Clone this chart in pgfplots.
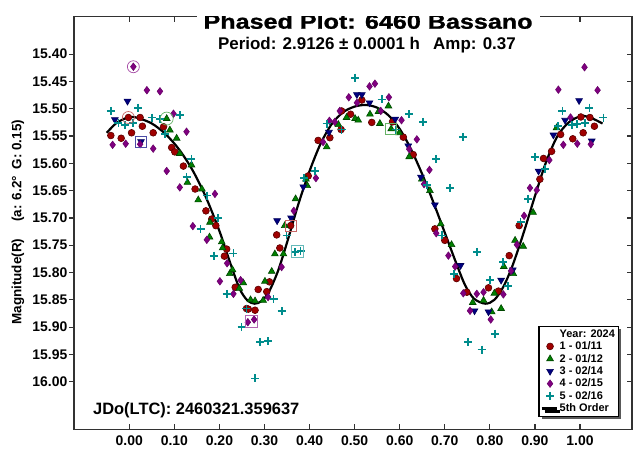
\documentclass[border=0pt]{standalone}
\usepackage{fontspec}
\setmainfont{Liberation Sans}
\newfontfamily\heavyfont[BoldFeatures={FakeBold=1}]{Liberation Sans}
\usepackage{pgfplots}
\pgfplotsset{compat=1.18}
\usetikzlibrary{shadows}
\definecolor{cRed}{RGB}{160,0,0}
\definecolor{cRedD}{RGB}{90,0,0}
\definecolor{cGreen}{RGB}{0,128,0}
\definecolor{cGreenD}{RGB}{0,70,0}
\definecolor{cNavy}{RGB}{0,0,128}
\definecolor{cPurp}{RGB}{128,0,128}
\definecolor{cTeal}{RGB}{0,140,140}
\definecolor{axgray}{RGB}{50,50,50}
\begin{document}
\begin{tikzpicture}
\begin{axis}[
  at={(0,0)}, anchor=south west,
  scale only axis, width=558bp, height=413bp,
  xmin=-0.1227, xmax=1.1154, ymin=15.3310, ymax=16.0875, y dir=reverse,
  axis line style={line width=1.6bp, draw=axgray},
  xtick={0,0.1,0.2,0.3,0.4,0.5,0.6,0.7,0.8,0.9,1.0},
  xticklabels={0.00,0.10,0.20,0.30,0.40,0.50,0.60,0.70,0.80,0.90,1.00},
  ytick={15.40,15.45,15.50,15.55,15.60,15.65,15.70,15.75,15.80,15.85,15.90,15.95,16.00},
  yticklabels={15.40,15.45,15.50,15.55,15.60,15.65,15.70,15.75,15.80,15.85,15.90,15.95,16.00},
  tick pos=left, tick align=outside, major tick length=5bp,
  x tick style={draw=none},
  y tick style={line width=1.2bp, draw=axgray},
  tick label style={font=\fontsize{14}{14}\selectfont\bfseries},
  xticklabel style={inner sep=1bp},
  yticklabel style={inner xsep=1.5bp},
  ylabel={Magnitude(R)\quad\ (a: 6.2°\enspace G: 0.15)},
  ylabel style={at={(axis description cs:-0.1004,0.5018)}, anchor=center, font=\fontsize{13.5}{14}\selectfont\bfseries},
  legend cell align=left,
  legend style={at={(axis description cs:0.9767,0.0302)}, anchor=south east,
    draw=black, line width=1.2bp, fill=white,
    font=\fontsize{11}{11}\selectfont\bfseries,
    inner xsep=1.5bp, inner ysep=1.2bp, row sep=-1bp,
    drop shadow={shadow xshift=3bp, shadow yshift=-3bp, fill=black!65, opacity=1}},
]
\addlegendimage{empty legend}
\addlegendentry{Year: 2024}

% 1 - 01/11 red circles
\addplot[only marks, mark=*, mark size=3.4bp, mark options={fill=cRed, draw=cRedD, line width=0.6bp}] table {
x y
-0.041 15.549
-0.018 15.554
-0.002 15.516
0.005 15.544
0.024 15.516
0.029 15.532
0.053 15.544
0.076 15.533
0.094 15.571
0.101 15.579
0.120 15.605
0.146 15.647
0.170 15.687
0.183 15.702
0.192 15.714
0.211 15.770
0.216 15.757
0.235 15.827
0.260 15.866
0.264 15.867
0.279 15.869
0.286 15.831
0.305 15.835
0.311 15.817
0.327 15.731
0.334 15.755
0.358 15.714
0.397 15.623
0.419 15.558
0.445 15.553
0.470 15.538
0.471 15.504
0.491 15.510
0.516 15.484
0.538 15.525
0.584 15.524
0.608 15.552
0.630 15.584
0.678 15.720
0.700 15.741
0.726 15.811
0.749 15.836
0.797 15.828
0.819 15.834
0.843 15.769
0.865 15.714
0.911 15.629
0.919 15.591
0.937 15.578
0.957 15.547
0.984 15.555
1.002 15.515
1.007 15.544
1.022 15.516
1.032 15.532
};
\addlegendentry{1 - 01/11}

% 2 - 01/12 green triangles
\addplot[only marks, mark=triangle*, mark size=3.9bp, mark options={fill=cGreen, draw=cGreenD, line width=0.6bp}] table {
x y
0.083 15.518
0.090 15.539
0.105 15.554
0.112 15.582
0.129 15.635
0.138 15.603
0.153 15.667
0.161 15.647
0.178 15.735
0.179 15.708
0.205 15.744
0.207 15.755
0.223 15.802
0.229 15.795
0.244 15.829
0.253 15.819
0.269 15.850
0.279 15.852
0.297 15.851
0.301 15.816
0.316 15.798
0.323 15.766
0.342 15.766
0.345 15.714
0.369 15.665
0.392 15.629
0.395 15.641
0.438 15.570
0.464 15.529
0.482 15.516
0.501 15.518
0.508 15.521
0.534 15.510
0.553 15.505
0.556 15.527
0.575 15.495
0.581 15.537
0.599 15.544
0.621 15.588
0.649 15.629
0.667 15.650
0.691 15.711
0.715 15.749
0.762 15.855
0.786 15.851
0.804 15.872
0.810 15.838
0.825 15.866
0.831 15.789
0.852 15.802
0.856 15.741
0.874 15.752
0.896 15.690
0.948 15.535
};
\addlegendentry{2 - 01/12}

% 3 - 02/14 navy down triangles
\addplot[only marks, mark=triangle*, mark size=3.9bp, mark options={rotate=180, fill=cNavy, draw=cNavy!70!black, line width=0.6bp}] table {
x y
-0.032 15.520
-0.004 15.486
0.026 15.560
0.328 15.705
0.359 15.700
0.386 15.643
0.443 15.543
0.505 15.474
0.516 15.474
0.533 15.489
0.590 15.519
0.619 15.568
0.647 15.625
0.678 15.676
0.735 15.787
0.766 15.870
0.797 15.872
0.825 15.814
0.851 15.795
0.908 15.614
0.941 15.548
0.967 15.521
0.998 15.485
1.026 15.559
};
\addlegendentry{3 - 02/14}

% 4 - 02/15 purple diamonds
\addplot[only marks, mark=diamond*, mark size=3.8bp, mark options={fill=cPurp, draw=cPurp!80!black, line width=0.5bp}] table {
x y
-0.037 15.566
-0.008 15.564
0.009 15.423
0.024 15.565
0.039 15.466
0.053 15.573
0.068 15.468
0.083 15.614
0.098 15.509
0.112 15.644
0.127 15.542
0.141 15.715
0.172 15.740
0.190 15.656
0.201 15.816
0.217 15.783
0.231 15.839
0.247 15.814
0.263 15.891
0.277 15.886
0.308 15.845
0.338 15.790
0.365 15.687
0.414 15.627
0.430 15.561
0.444 15.522
0.456 15.524
0.467 15.504
0.487 15.479
0.505 15.489
0.533 15.459
0.545 15.454
0.558 15.504
0.576 15.479
0.604 15.521
0.621 15.574
0.638 15.556
0.654 15.638
0.666 15.612
0.681 15.728
0.708 15.769
0.723 15.789
0.741 15.838
0.756 15.870
0.771 15.839
0.786 15.836
0.802 15.886
0.830 15.840
0.847 15.797
0.860 15.749
0.876 15.696
0.889 15.645
0.904 15.649
0.932 15.594
0.952 15.465
0.963 15.566
0.979 15.516
0.994 15.564
1.010 15.424
1.024 15.565
1.039 15.466
};
\addlegendentry{4 - 02/15}

% 5 - 02/16 teal plus
\addplot[only marks, mark=+, mark size=4bp, mark options={draw=cTeal, line width=1.8bp}] table {
x y
-0.041 15.504
-0.024 15.526
-0.010 15.529
0.009 15.526
0.020 15.498
0.050 15.516
0.068 15.519
0.079 15.546
0.112 15.511
0.127 15.625
0.138 15.592
0.158 15.720
0.172 15.659
0.188 15.769
0.197 15.700
0.216 15.839
0.231 15.765
0.249 15.900
0.260 15.866
0.279 15.994
0.290 15.927
0.308 15.926
0.320 15.849
0.338 15.871
0.349 15.732
0.368 15.763
0.380 15.760
0.388 15.627
0.412 15.614
0.438 15.527
0.471 15.538
0.501 15.443
0.560 15.483
0.592 15.538
0.621 15.510
0.652 15.524
0.661 15.640
0.681 15.592
0.693 15.732
0.712 15.645
0.720 15.802
0.741 15.552
0.752 15.927
0.772 15.762
0.782 15.941
0.800 15.814
0.811 15.912
0.830 15.781
0.841 15.825
0.868 15.708
0.885 15.665
0.900 15.588
0.922 15.611
0.952 15.532
0.961 15.504
0.982 15.530
0.993 15.528
1.011 15.526
1.021 15.498
1.052 15.516
};
\addlegendentry{5 - 02/16}

% highlighted points (circles and boxes)
\addplot[only marks, mark=o, mark size=6bp, mark options={draw=cPurp!70, line width=0.7bp}, forget plot] coordinates {(0.009,15.423)};
\addplot[only marks, mark=o, mark size=6bp, mark options={draw=cRed!60, line width=0.7bp}, forget plot] coordinates {(-0.002,15.516)};
\addplot[only marks, mark=o, mark size=6.5bp, mark options={draw=cGreen!60, line width=0.7bp}, forget plot] coordinates {(0.083,15.518)};
\addplot[only marks, mark=square, mark size=5.5bp, mark options={draw=cNavy!70, line width=0.8bp}, forget plot] coordinates {(0.026,15.560)};
\addplot[only marks, mark=square, mark size=5.5bp, mark options={draw=cRed!60, line width=0.8bp}, forget plot] coordinates {(0.358,15.714)};
\addplot[only marks, mark=square, mark size=6bp, mark options={draw=cTeal!60, line width=0.8bp}, forget plot] coordinates {(0.372,15.762)};
\addplot[only marks, mark=square, mark size=6bp, mark options={draw=cPurp!60, line width=0.8bp}, forget plot] coordinates {(0.270,15.889)};
\addplot[only marks, mark=square, mark size=5.5bp, mark options={draw=cGreen!60, line width=0.8bp}, forget plot] coordinates {(0.581,15.537)};

% 5th order fit
\addplot[black, line width=2.2bp, smooth, no marks,
  legend image code/.code={\draw[black, line width=2.2bp] (0bp,0bp) -- (15bp,0bp);}] table {
x y
-0.050 15.544
-0.030 15.527
-0.010 15.518
0.005 15.515
0.020 15.517
0.050 15.527
0.080 15.546
0.110 15.574
0.140 15.612
0.170 15.662
0.200 15.724
0.225 15.785
0.245 15.830
0.262 15.851
0.278 15.857
0.294 15.852
0.310 15.835
0.330 15.797
0.350 15.745
0.375 15.675
0.400 15.614
0.425 15.563
0.450 15.527
0.475 15.506
0.500 15.496
0.525 15.493
0.550 15.498
0.575 15.512
0.600 15.537
0.625 15.574
0.650 15.620
0.675 15.672
0.700 15.727
0.725 15.782
0.745 15.823
0.765 15.848
0.790 15.857
0.810 15.850
0.830 15.826
0.850 15.788
0.875 15.727
0.900 15.660
0.925 15.597
0.950 15.550
0.975 15.525
1.000 15.514
1.020 15.515
1.050 15.527
};
\addlegendentry{5th Order}

% ticks: x inside (bottom and top), y inside on the right
\pgfplotsinvokeforeach{0,0.1,0.2,0.3,0.4,0.5,0.6,0.7,0.8,0.9,1.0}{
  \draw[axgray, line width=1.2bp] ({axis cs:#1,16}|-{axis description cs:0,0}) -- ({axis cs:#1,16}|-{axis description cs:0,0.0145});
  \draw[axgray, line width=1.2bp] ({axis cs:#1,16}|-{axis description cs:0,1}) -- ({axis cs:#1,16}|-{axis description cs:0,0.9855});
}
\pgfplotsinvokeforeach{15.40,15.45,15.50,15.55,15.60,15.65,15.70,15.75,15.80,15.85,15.90,15.95,16.00}{
  \draw[axgray, line width=1.2bp] ({axis description cs:1,0}|-{axis cs:0,#1}) -- ({axis description cs:0.991,0}|-{axis cs:0,#1});
}

% texts
\node[fill=white, inner xsep=7bp, inner ysep=1bp, anchor=base, font=\fontsize{20.5}{22}\heavyfont\bfseries]
  at (axis description cs:0.527,0.9705) {\scalebox{1.23}[1]{Phased Plot: 6460 Bassano}};
\node[anchor=base, inner sep=0pt, font=\fontsize{17}{18}\selectfont\bfseries]
  at (axis description cs:0.525,0.9195) {Period: 2.9126 ± 0.0001 h\enspace\ Amp: 0.37};
\node[anchor=base west, inner sep=0pt, font=\fontsize{16.5}{18}\selectfont\bfseries]
  at (axis description cs:0.034,0.0367) {JDo(LTC): 2460321.359637};
\end{axis}
\pgfresetboundingbox
\path[use as bounding box] (-74bp,-19.5bp) rectangle (559bp,429.5bp);
\end{tikzpicture}
\end{document}
